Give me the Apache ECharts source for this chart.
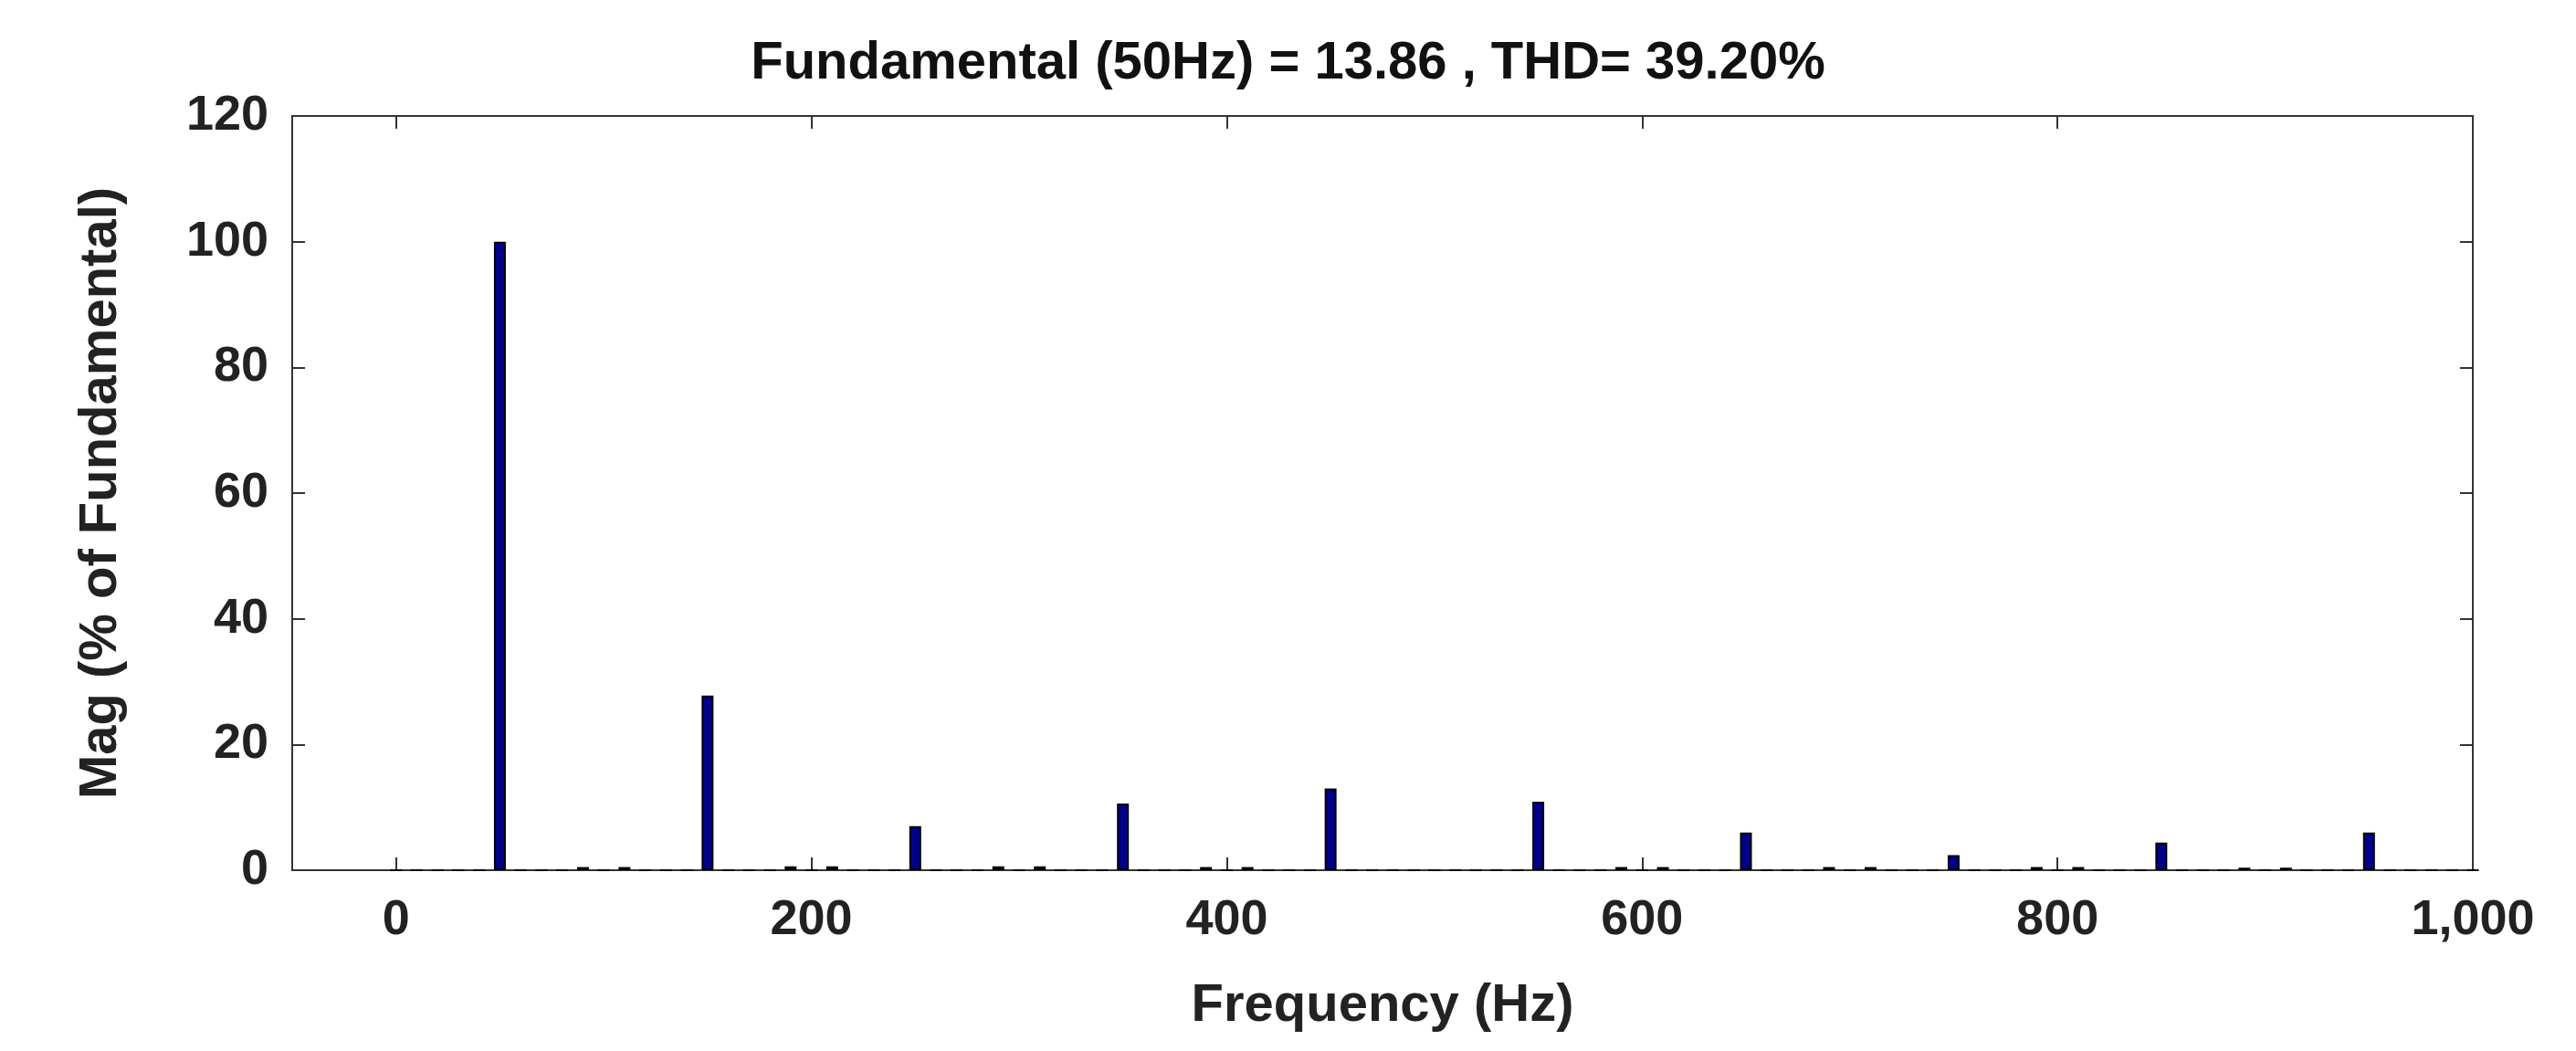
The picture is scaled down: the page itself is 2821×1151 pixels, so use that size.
<!DOCTYPE html>
<html><head><meta charset="utf-8">
<script src="https://cdn.jsdelivr.net/npm/echarts@6/dist/echarts.min.js"></script>
<style>html,body{margin:0;background:#fff}#c{width:2821px;height:1151px}</style>
</head><body><div id="c"></div>
<script>
var harmFreq=[50,150,250,350,450,550,650,750,850,950];
var harmMag=[100,27.8,7,10.6,13,10.9,6,2.4,4.4,6];
var smallFreq=[90,110,190,210,290,310,390,410,590,610,690,710,790,810,890,910];
var smallMag=[0.5,0.5,0.6,0.6,0.6,0.6,0.5,0.5,0.5,0.5,0.5,0.5,0.5,0.5,0.4,0.4];
var xTicks=[0,200,400,600,800,1000];

var data=[];
for(var f=0;f<=1000;f+=10){
  var v=0;
  var i=harmFreq.indexOf(f); if(i>=0)v=harmMag[i];
  var j=smallFreq.indexOf(f); if(j>=0)v=smallMag[j];
  data.push([f,v]);
}
var font='Liberation Sans';
var chart=echarts.init(document.getElementById('c'));
function ax(extra){
  return Object.assign({
    axisLine:{onZero:false,lineStyle:{color:'#333',width:2}},
    axisTick:{inside:true,length:14,lineStyle:{color:'#333',width:2}},
    splitLine:{show:false}},extra);
}
var lbl={fontFamily:font,fontWeight:'bold',fontSize:54,color:'#222'};
var nm={fontFamily:font,fontWeight:'bold',fontSize:58,color:'#222'};
chart.setOption({
  title:{text:'Fundamental (50Hz) = 13.86 , THD= 39.20%',left:'center',top:36,
    textStyle:{fontFamily:font,fontWeight:'bold',fontSize:58,color:'#111'}},
  grid:{left:320,right:113,top:127,bottom:198},
  xAxis:[ax({type:'value',min:-50,max:1000,position:'bottom',
      name:'Frequency (Hz)',nameLocation:'middle',nameGap:120,nameTextStyle:nm,
      axisLabel:Object.assign({margin:28,customValues:xTicks},lbl),
      axisTick:{inside:true,length:14,customValues:xTicks,lineStyle:{color:'#333',width:2}}}),
    ax({type:'value',min:-50,max:1000,position:'top',axisLabel:{show:false},
      axisTick:{inside:true,length:14,customValues:xTicks,lineStyle:{color:'#333',width:2}}})],
  yAxis:[ax({type:'value',min:0,max:120,interval:20,
      name:'Mag (% of Fundamental)',nameLocation:'middle',nameGap:180,nameTextStyle:nm,
      axisLabel:Object.assign({margin:26},lbl)}),
    ax({type:'value',min:0,max:120,interval:20,position:'right',axisLabel:{show:false}})],
  series:[{type:'bar',data:data,barWidth:13,
    itemStyle:{color:'#00008f',borderColor:'#000',borderWidth:2}}]
});
</script></body></html>
